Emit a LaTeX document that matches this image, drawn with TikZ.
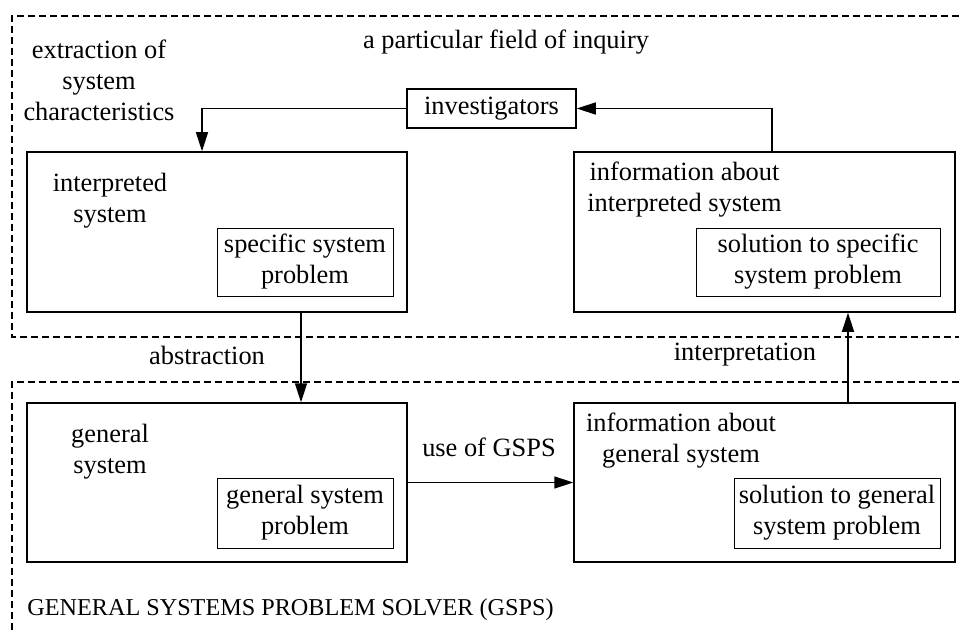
\documentclass[tikz,border=0pt]{standalone}
\usepackage{fontspec}
\setmainfont{Liberation Serif}
\usetikzlibrary{arrows.meta}
\usetikzlibrary{positioning}

\tikzset{
  bigbox/.style={draw, line width=0.75pt, minimum width=190pt, minimum height=80pt},
  smallbox/.style={draw, line width=0.5pt, minimum height=34pt, align=center, inner sep=1pt},
  txt/.style={align=center, inner sep=0pt},
  flow/.style={line width=0.75pt, -{Triangle[length=9.5pt,width=6pt]}},
  region/.style={dash pattern=on 3.5pt off 2pt, line width=0.6pt}
}

\begin{document}
\begin{tikzpicture}[x=0.5pt, y=-0.5pt, font=\fontsize{13.2}{15.5}\selectfont]
\useasboundingbox (0,0) rectangle (959,631);
% draw the two regions
\draw[region] (959,16) -- (12,16) -- (12,337) -- (959,337);
\draw[region] (959,382) -- (12,382) -- (12,631);
% region texts
\node[txt] (field) at (506,42) {a particular field of inquiry};
\node[txt] (extract) at (99,80) {extraction of\\system\\characteristics};
\node[txt, anchor=west, font=\fontsize{12.1}{15}\selectfont] (gspsname) at (27,610) {GENERAL SYSTEMS PROBLEM SOLVER (GSPS)};
% outer boxes
\node[bigbox] (isys) at (217,232) {};
\node[bigbox, minimum width=190.5pt] (iinfo) at (764.5,232) {};
\node[bigbox, minimum height=79.5pt] (gsys) at (217,482.5) {};
\node[bigbox, minimum width=190.5pt, minimum height=79.5pt] (ginfo) at (764.5,482.5) {};
\node[txt] (isystxt) at (110,201) {interpreted\\system};
\node[txt] (iinfotxt) at (684.5,190) {information about\\interpreted system};
\node[txt] (gsystxt) at (110,452) {general\\system};
\node[txt] (ginfotxt) at (681,441) {information about\\general system};
% inner boxes
\node[smallbox, minimum width=88pt] (isprob) at (305,262) {specific system\\problem};
\node[smallbox, minimum width=122pt] (isol) at (818,262) {solution to specific\\system problem};
\node[smallbox, minimum width=88pt, minimum height=35pt] (gsprob) at (305,513) {general system\\problem};
\node[smallbox, minimum width=103pt, minimum height=35pt] (gsol) at (837,513) {solution to general\\system problem};
\node[draw, line width=0.75pt, minimum width=84.5pt, minimum height=19.5pt] (inv) at (491.5,108.5) {investigators};
% add arrows
\draw[flow] (inv.west) -| ([xshift=-7.5pt]isys.north);
\draw[flow] ([xshift=3.75pt]iinfo.north) |- (inv.east);
\draw[flow] ([xshift=42pt]isys.south) -- ([xshift=42pt]gsys.north);
\draw[flow] ([xshift=41.75pt]ginfo.north) -- ([xshift=41.75pt]iinfo.south);
\draw[flow] (gsys.east) -- (ginfo.west);
% arrow labels
\node[txt] (abstr) at (207,355) {abstraction};
\node[txt] (interp) at (745,355) {interpretation};
\node[txt] (use) at (489,447) {use of GSPS};
\end{tikzpicture}
\end{document}
